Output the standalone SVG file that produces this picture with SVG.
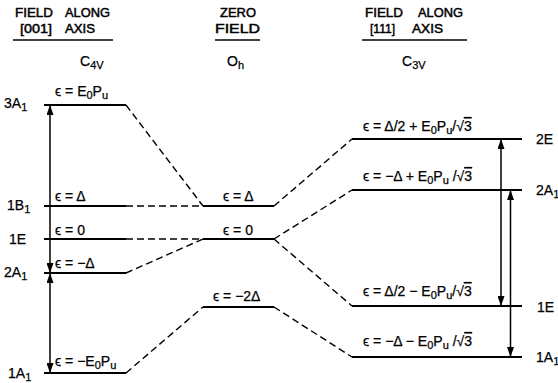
<svg xmlns="http://www.w3.org/2000/svg" width="558" height="383" viewBox="0 0 558 383">
  <style>
    text { font-family: "Liberation Sans", Arial, sans-serif; font-size: 14px; fill: #000; stroke: #000; stroke-width: 0.25; }
    .hd { font-size: 13.5px; stroke-width: 0.5; }
    .s { font-size: 11px; }
    .lvl { stroke: #000; stroke-width: 2; fill: none; }
    .dash { stroke: #000; stroke-width: 1.4; fill: none; stroke-dasharray: 7 4; }
    .arr { stroke: #000; stroke-width: 1.5; fill: none; marker-start: url(#head); marker-end: url(#head); }
    .rule { stroke: #000; stroke-width: 1.5; }
    .ol { text-decoration: overline; }
  </style>
  <defs>
    <marker id="head" viewBox="0 0 10 7" refX="10" refY="3.5" markerWidth="10" markerHeight="7" markerUnits="userSpaceOnUse" orient="auto-start-reverse">
      <path d="M0,0 L10,3.5 L0,7 z" fill="#000"/>
    </marker>
  </defs>

  <!-- column headings -->
  <g id="head-c4v">
    <text class="hd" x="15" y="17" textLength="38" lengthAdjust="spacingAndGlyphs">FIELD</text>
    <text class="hd" x="65" y="17" textLength="45" lengthAdjust="spacingAndGlyphs">ALONG</text>
    <text class="hd" x="20" y="33" textLength="32" lengthAdjust="spacingAndGlyphs">[001]</text>
    <text class="hd" x="65" y="33" textLength="30" lengthAdjust="spacingAndGlyphs">AXIS</text>
    <line class="rule" x1="13" y1="40" x2="113" y2="40"/>
    <text x="80" y="66">C<tspan class="s" dy="3">4V</tspan></text>
  </g>
  <g id="head-oh">
    <text class="hd" x="220" y="17" textLength="36" lengthAdjust="spacingAndGlyphs">ZERO</text>
    <text class="hd" x="215" y="33" textLength="45" lengthAdjust="spacingAndGlyphs">FIELD</text>
    <line class="rule" x1="215" y1="40" x2="260" y2="40"/>
    <text x="227" y="66">O<tspan class="s" dy="3">h</tspan></text>
  </g>
  <g id="head-c3v">
    <text class="hd" x="365" y="17" textLength="38" lengthAdjust="spacingAndGlyphs">FIELD</text>
    <text class="hd" x="418" y="17" textLength="45" lengthAdjust="spacingAndGlyphs">ALONG</text>
    <text class="hd" x="370" y="33" textLength="25" lengthAdjust="spacingAndGlyphs">[111]</text>
    <text class="hd" x="412" y="33" textLength="31" lengthAdjust="spacingAndGlyphs">AXIS</text>
    <line class="rule" x1="362" y1="40" x2="467" y2="40"/>
    <text x="402" y="66">C<tspan class="s" dy="3">3V</tspan></text>
  </g>

  <!-- C4v levels -->
  <g id="c4v-3A1">
    <line class="lvl" x1="44" y1="105" x2="126" y2="105"/>
    <text x="4" y="108">3A<tspan class="s" dy="3">1</tspan></text>
    <text x="55" y="96">ϵ = E<tspan class="s" dy="3">0</tspan><tspan dy="-3">P</tspan><tspan class="s" dy="3">u</tspan></text>
  </g>
  <g id="c4v-1B1">
    <line class="lvl" x1="44" y1="206" x2="126" y2="206"/>
    <text x="7" y="210">1B<tspan class="s" dy="3">1</tspan></text>
    <text x="55" y="201">ϵ = Δ</text>
  </g>
  <g id="c4v-1E">
    <line class="lvl" x1="44" y1="239" x2="126" y2="239"/>
    <text x="9" y="244">1E</text>
    <text x="55" y="235">ϵ = 0</text>
  </g>
  <g id="c4v-2A1">
    <line class="lvl" x1="44" y1="273" x2="126" y2="273"/>
    <text x="4" y="277">2A<tspan class="s" dy="3">1</tspan></text>
    <text x="55" y="268">ϵ = −Δ</text>
  </g>
  <g id="c4v-1A1">
    <line class="lvl" x1="44" y1="373" x2="126" y2="373"/>
    <text x="8" y="378">1A<tspan class="s" dy="3">1</tspan></text>
    <text x="55" y="366">ϵ = −E<tspan class="s" dy="3">0</tspan><tspan dy="-3">P</tspan><tspan class="s" dy="3">u</tspan></text>
  </g>

  <!-- Oh levels -->
  <g id="oh-delta">
    <line class="lvl" x1="203" y1="206" x2="274" y2="206"/>
    <text x="223" y="201">ϵ = Δ</text>
  </g>
  <g id="oh-zero">
    <line class="lvl" x1="203" y1="239" x2="274" y2="239"/>
    <text x="223" y="235">ϵ = 0</text>
  </g>
  <g id="oh-m2delta">
    <line class="lvl" x1="203" y1="307" x2="274" y2="307"/>
    <text x="213" y="301">ϵ = −2Δ</text>
  </g>

  <!-- C3v levels -->
  <g id="c3v-2E">
    <line class="lvl" x1="352" y1="139" x2="522" y2="139"/>
    <text x="536" y="144">2E</text>
    <text x="363" y="131">ϵ = Δ/2 + E<tspan class="s" dy="3">0</tspan><tspan dy="-3">P</tspan><tspan class="s" dy="3">u</tspan><tspan dy="-3">/√</tspan><tspan class="ol">3</tspan></text>
  </g>
  <g id="c3v-2A1">
    <line class="lvl" x1="352" y1="190" x2="522" y2="190"/>
    <text x="536" y="195">2A<tspan class="s" dy="3">1</tspan></text>
    <text x="363" y="181">ϵ = −Δ + E<tspan class="s" dy="3">0</tspan><tspan dy="-3">P</tspan><tspan class="s" dy="3">u</tspan><tspan dy="-3"> /√</tspan><tspan class="ol">3</tspan></text>
  </g>
  <g id="c3v-1E">
    <line class="lvl" x1="352" y1="306" x2="522" y2="306"/>
    <text x="537" y="312">1E</text>
    <text x="363" y="296">ϵ = Δ/2 − E<tspan class="s" dy="3">0</tspan><tspan dy="-3">P</tspan><tspan class="s" dy="3">u</tspan><tspan dy="-3">/√</tspan><tspan class="ol">3</tspan></text>
  </g>
  <g id="c3v-1A1">
    <line class="lvl" x1="352" y1="357" x2="522" y2="357"/>
    <text x="536" y="362">1A<tspan class="s" dy="3">1</tspan></text>
    <text x="363" y="346">ϵ = −Δ − E<tspan class="s" dy="3">0</tspan><tspan dy="-3">P</tspan><tspan class="s" dy="3">u</tspan><tspan dy="-3"> /√</tspan><tspan class="ol">3</tspan></text>
  </g>

  <!-- correlation lines and transition arrows -->
  <g id="connectors">
    <line class="dash" x1="126" y1="105" x2="203" y2="206"/>
    <line class="dash" x1="126" y1="206" x2="203" y2="206"/>
    <line class="dash" x1="126" y1="239" x2="203" y2="239"/>
    <line class="dash" x1="126" y1="273" x2="203" y2="239"/>
    <line class="dash" x1="126" y1="373" x2="203" y2="307"/>
    <line class="dash" x1="274" y1="206" x2="352" y2="139"/>
    <line class="dash" x1="274" y1="239" x2="352" y2="190"/>
    <line class="dash" x1="274" y1="239" x2="352" y2="306"/>
    <line class="dash" x1="274" y1="307" x2="352" y2="357"/>
    <line class="arr" x1="50" y1="105" x2="50" y2="273"/>
    <line class="arr" x1="50" y1="273" x2="50" y2="373"/>
    <line class="arr" x1="501" y1="139" x2="501" y2="306"/>
    <line class="arr" x1="510.5" y1="190" x2="510.5" y2="357"/>
  </g>
</svg>
